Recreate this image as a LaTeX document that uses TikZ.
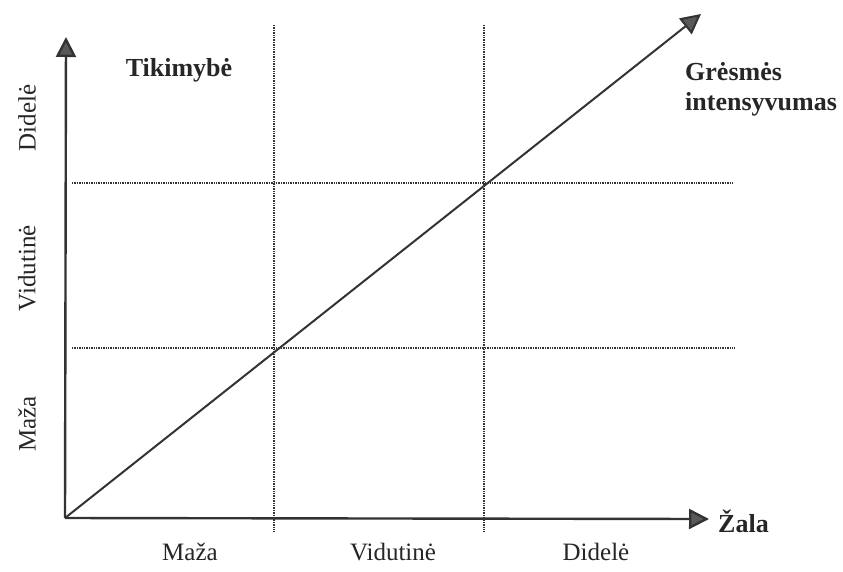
\documentclass[tikz,border=0pt]{standalone}
\usepackage{fontspec}
\setmainfont{Liberation Serif}
\usetikzlibrary{arrows.meta}
\begin{document}
\begin{tikzpicture}[x=1pt,y=-1pt,
  axis/.style={line width=2.4pt,draw=black!80,-{Triangle[length=20pt,width=20pt,fill=black!65]}},
  grid/.style={line width=2pt,draw=black!80,dash pattern=on 1.3pt off 1.1pt},
  lbl/.style={font=\fontsize{25}{28}\selectfont,text=black!85,inner sep=0pt},
  blbl/.style={font=\fontsize{26}{30}\selectfont\bfseries,text=black!85,inner sep=0pt}]
\useasboundingbox (0,0) rectangle (843,571);
\coordinate (O) at (65,518);
\coordinate (Y) at (66,37);
\coordinate (X) at (709,519);
\coordinate (D) at (701,14);
\coordinate (v1t) at (274,25); \coordinate (v1b) at (274,532);
\coordinate (v2t) at (484,25); \coordinate (v2b) at (484,532);
\coordinate (h1l) at (72,183); \coordinate (h1r) at (733,183);
\coordinate (h2l) at (72,348); \coordinate (h2r) at (735,348);
\draw[grid] (v1t) -- (v1b);
\draw[grid] (v2t) -- (v2b);
\draw[grid] (h1l) -- (h1r);
\draw[grid] (h2l) -- (h2r);
\draw[axis] (O) -- (Y);
\draw[axis] (O) -- (X);
\draw[axis,line width=2pt] (O) -- (D);
\node[blbl] (tik) at (179,70) {Tikimybė};
\node[blbl,align=left,anchor=north west] (gr) at (685,62) {Grėsmės\\intensyvumas};
\node[blbl,anchor=west] (zala) at (718,521) {Žala};
\node[lbl] (xm) at (190,552) {Maža};
\node[lbl] (xv) at (393,552) {Vidutinė};
\node[lbl] (xd) at (596,552) {Didelė};
\node[lbl,rotate=90] (ym) at (27,424) {Maža};
\node[lbl,rotate=90] (yv) at (27,268) {Vidutinė};
\node[lbl,rotate=90] (yd) at (27,118) {Didelė};
\end{tikzpicture}
\end{document}
